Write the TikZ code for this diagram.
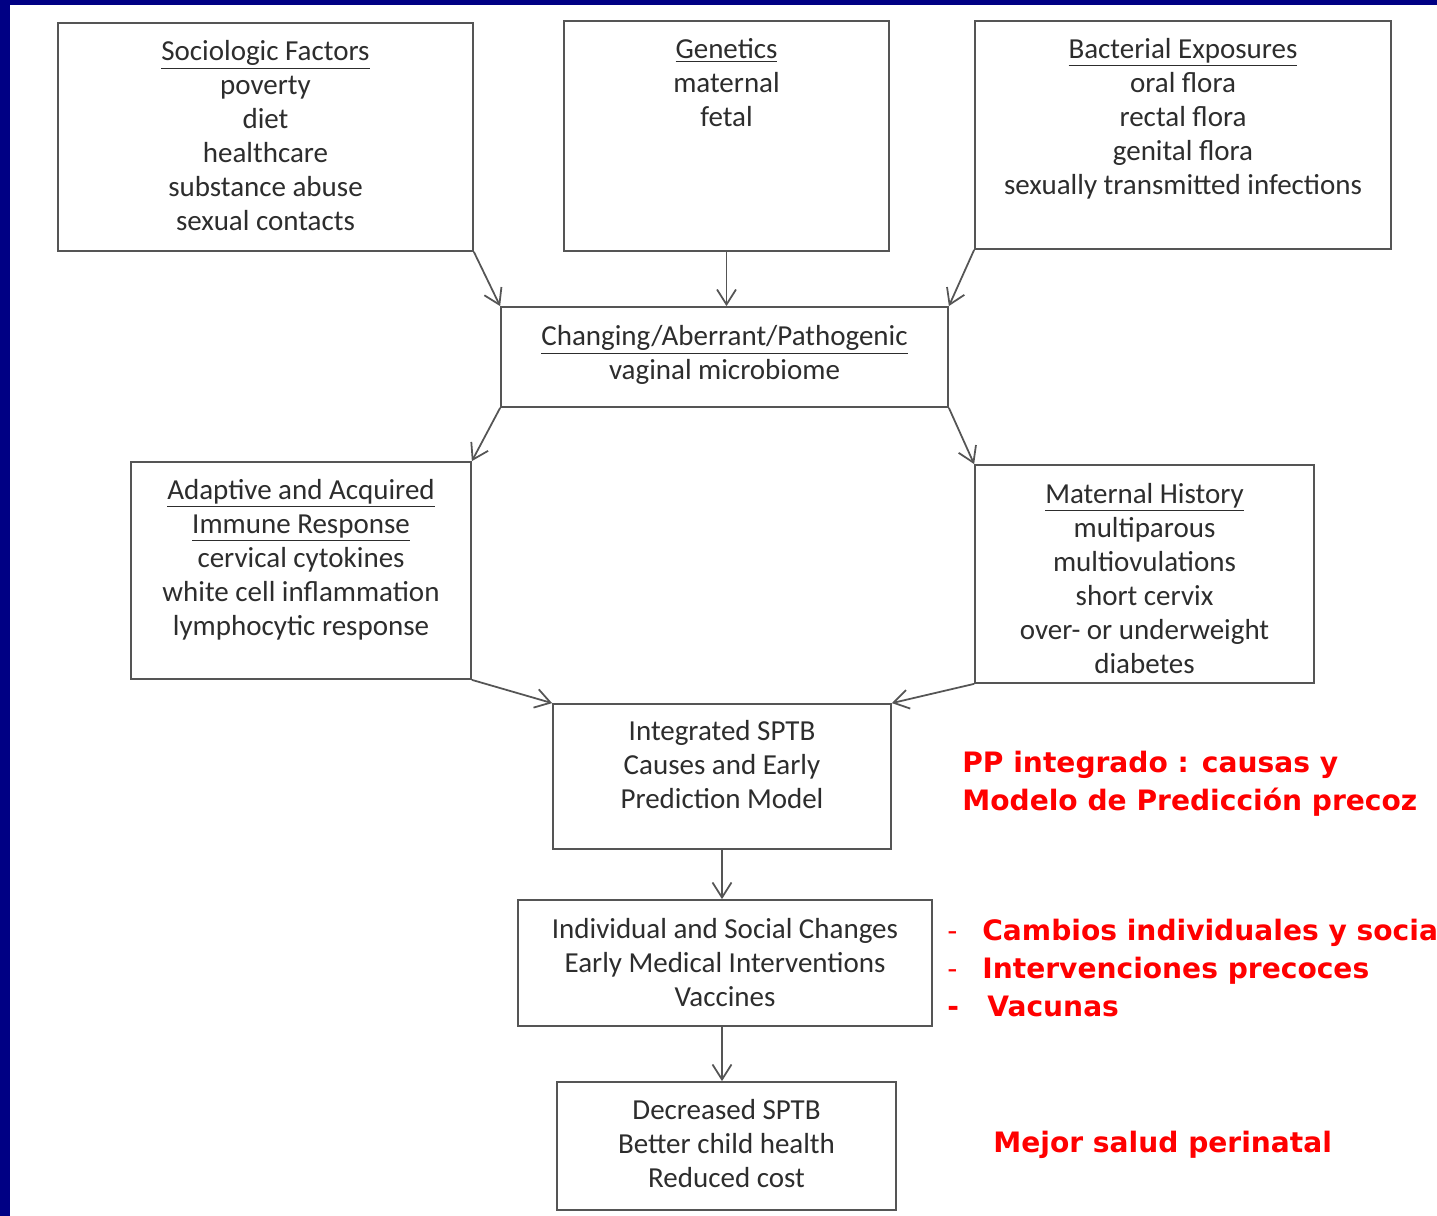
\documentclass[tikz,border=0pt]{standalone}
\usepackage{fontspec}
\setmainfont{Carlito}
\newfontfamily\redfont{DejaVu Sans}
\usetikzlibrary{arrows.meta,positioning,fit}
\definecolor{slideblue}{RGB}{0,0,132}
\definecolor{boxgray}{RGB}{85,85,85}
\definecolor{txtgray}{RGB}{45,45,45}

\begin{document}
\begin{tikzpicture}[x=0.02cm,y=-0.02cm,>={Straight Barb[length=0.3cm,width=0.38cm]},
  box/.style={draw=boxgray,line width=1pt,inner sep=0pt},
  txt/.style={align=center,inner sep=0pt,text=txtgray,font=\fontsize{16.5}{19.35}\selectfont,execute at begin node=\strut},
  note/.style={anchor=west,align=left,inner sep=0pt,text=red,font=\redfont\bfseries\fontsize{16}{21.9}\selectfont},
  link/.style={->,line width=1pt,draw=boxgray}]
\useasboundingbox (0,0) rectangle (1437,1216);
\clip (0,0) rectangle (1437,1216);
% slide background
\fill[slideblue] (0,0) rectangle (1437,1216);
\fill[white] (10,5) rectangle (1437,1216);

% top row
\node[box,fit={(58,23) (473,251)}] (socio) {};
\node[txt,below=0.36cm of socio.north] (socio-t) {\underline{Sociologic Factors}\\poverty\\diet\\healthcare\\substance abuse\\sexual contacts};
\node[box,fit={(564,21) (889,251)}] (gen) {};
\node[txt,below=0.36cm of gen.north] (gen-t) {\underline{Genetics}\\maternal\\fetal};
\node[box,fit={(975,21) (1391,249)}] (bact) {};
\node[txt,below=0.36cm of bact.north] (bact-t) {\underline{Bacterial Exposures}\\oral flora\\rectal flora\\genital flora\\sexually transmitted infections};

% microbiome
\node[box,fit={(501,307) (948,407)}] (chg) {};
\node[txt,below=0.38cm of chg.north] (chg-t) {\underline{Changing/Aberrant/Pathogenic}\\vaginal microbiome};

% middle row
\node[box,fit={(131,462) (471,679)}] (adap) {};
\node[txt,below=0.36cm of adap.north] (adap-t) {\underline{Adaptive and Acquired}\\\underline{Immune Response}\\cervical cytokines\\white cell inflammation\\lymphocytic response};
\node[box,fit={(975,465) (1314,683)}] (mat) {};
\node[txt,below=0.38cm of mat.north] (mat-t) {\underline{Maternal History}\\multiparous\\multiovulations\\short cervix\\over- or underweight\\diabetes};

% lower chain
\node[box,fit={(553,704) (891,849)}] (integ) {};
\node[txt,below=0.34cm of integ.north] (integ-t) {Integrated SPTB\\Causes and Early\\Prediction Model};
\node[box,fit={(518,900) (932,1026)}] (indiv) {};
\node[txt,below=0.38cm of indiv.north] (indiv-t) {Individual and Social Changes\\Early Medical Interventions\\Vaccines};
\node[box,fit={(557,1082) (896,1210)}] (decr) {};
\node[txt,below=0.36cm of decr.north] (decr-t) {Decreased SPTB\\Better child health\\Reduced cost};

% connectors
\draw[link] (socio.south east) -- (chg.north west);
\draw[link] (gen.south) -- (gen.south |- chg.north);
\draw[link] (bact.south west) -- (chg.north east);
\draw[link] (chg.south west) -- (adap.north east);
\draw[link] (chg.south east) -- (mat.north west);
\draw[link] (adap.south east) -- (integ.north west);
\draw[link] (mat.south west) -- (integ.north east);
\draw[link] (integ.south) -- (integ.south |- indiv.north);
\draw[link] (indiv.south -| integ.south) -- (integ.south |- decr.north);

% spanish notes
\node[note] (pp) at (962,784) {PP integrado : causas y\\Modelo de Predicción precoz};
\node[note] (cambios) at (947,968) {\makebox[0.7cm][l]{\mdseries -}Cambios individuales y sociales\\\makebox[0.7cm][l]{\mdseries -}Intervenciones precoces\\\makebox[0.8cm][l]{-}Vacunas};
\node[note] (mejor) at (993,1145) {Mejor salud perinatal};
\end{tikzpicture}
\end{document}
